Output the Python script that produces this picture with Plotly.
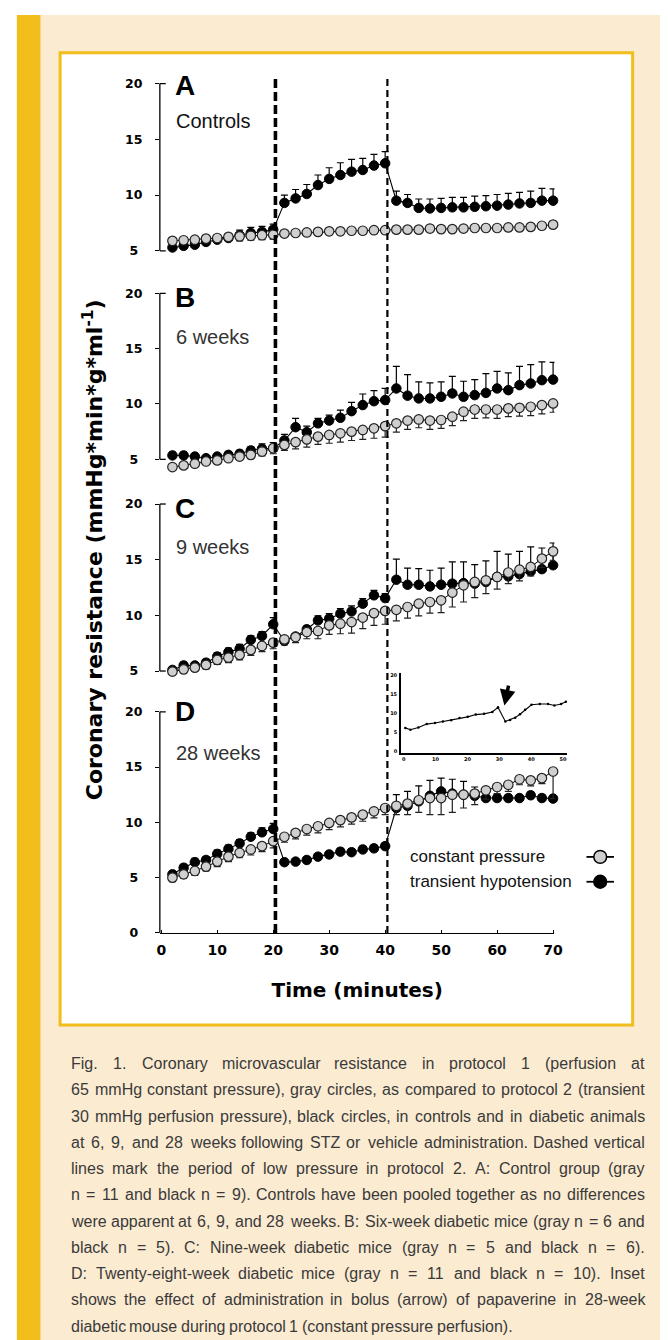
import plotly.graph_objects as go

# ---------------- data ----------------
TIME = [2, 4, 6, 8, 10, 12, 14, 16, 18, 20, 22, 24, 26, 28, 30, 32, 34, 36,
        38, 40, 42, 44, 46, 48, 50, 52, 54, 56, 58, 60, 62, 64, 66, 68, 70]

A_black = [5.3, 5.45, 5.55, 5.8, 6.0, 6.15, 6.4, 6.6, 6.7, 6.9,
           9.3, 9.7, 10.1, 10.9, 11.45, 11.8, 12.1, 12.25, 12.65, 12.85,
           9.5, 9.3, 8.85, 8.8, 8.85, 8.9, 8.9, 8.95, 9.0, 9.05, 9.15, 9.25, 9.3, 9.5, 9.5]
A_black_err = [0.2, 0.2, 0.25, 0.3, 0.3, 0.4, 0.45, 0.5, 0.5, 0.5,
               0.7, 0.8, 0.85, 0.9, 1.0, 1.1, 1.1, 1.05, 1.0, 1.05,
               0.85, 0.75, 0.8, 0.85, 0.85, 0.9, 0.9, 0.95, 0.95, 1.0, 1.0, 1.0, 1.05, 1.1, 1.05]
A_gray = [5.9, 5.95, 6.0, 6.1, 6.15, 6.25, 6.3, 6.35, 6.4, 6.45,
          6.55, 6.6, 6.65, 6.7, 6.75, 6.75, 6.8, 6.8, 6.85, 6.85,
          6.9, 6.9, 6.9, 7.0, 6.95, 6.95, 7.0, 7.05, 7.05, 7.05, 7.1, 7.1, 7.15, 7.25, 7.35]
A_gray_err = [0.2, 0.2, 0.2, 0.25, 0.4, 0.4, 0.4, 0.4, 0.4, 0.4,
              0.3, 0.3, 0.3, 0.3, 0.3, 0.3, 0.3, 0.3, 0.3, 0.3,
              0.3, 0.3, 0.3, 0.3, 0.3, 0.3, 0.3, 0.3, 0.3, 0.3, 0.3, 0.3, 0.3, 0.3, 0.3]

B_black = [5.35, 5.35, 5.25, 5.1, 5.25, 5.4, 5.5, 5.8, 5.95, 6.0,
           6.7, 7.9, 7.45, 8.25, 8.5, 8.75, 9.35, 9.9, 10.25, 10.35,
           11.4, 10.75, 10.5, 10.5, 10.65, 10.95, 10.65, 10.8, 11.0, 11.4, 11.25, 11.7, 11.85, 12.15, 12.2]
B_black_err = [0.3, 0.3, 0.25, 0.2, 0.25, 0.3, 0.3, 0.35, 0.45, 0.5,
               0.55, 0.8, 0.55, 0.45, 0.5, 0.7, 0.8, 1.0, 0.95, 1.05,
               2.0, 1.9, 1.5, 1.4, 1.35, 1.55, 1.4, 1.4, 1.75, 1.55, 1.55, 1.7, 1.7, 1.65, 1.55]
B_gray = [4.3, 4.45, 4.6, 4.8, 4.9, 5.1, 5.25, 5.4, 5.7, 6.0,
          6.3, 6.55, 6.8, 7.05, 7.2, 7.35, 7.5, 7.65, 7.8, 8.0,
          8.25, 8.5, 8.6, 8.5, 8.55, 8.85, 9.3, 9.5, 9.5, 9.5, 9.6, 9.65, 9.75, 9.9, 10.05]
B_gray_err = [0.15, 0.2, 0.2, 0.25, 0.3, 0.3, 0.3, 0.35, 0.4, 0.5,
              0.5, 0.6, 0.7, 0.7, 0.75, 0.8, 0.8, 0.85, 0.9, 1.0,
              0.8, 0.8, 0.75, 0.8, 0.75, 0.8, 0.8, 0.8, 0.75, 0.8, 0.75, 0.75, 0.8, 0.8, 0.8]

C_black = [5.1, 5.5, 5.5, 5.75, 6.3, 6.7, 7.0, 7.8, 8.15, 9.2,
           7.7, 8.1, 8.75, 9.55, 9.7, 10.15, 10.35, 11.05, 11.8, 11.55,
           13.2, 12.75, 12.75, 12.6, 12.75, 12.85, 12.9, 12.85, 13.0, 13.45, 13.5, 13.7, 13.95, 14.15, 14.5]
C_black_err = [0.2, 0.3, 0.25, 0.3, 0.35, 0.35, 0.4, 0.35, 0.4, 0.6,
               0.2, 0.25, 0.3, 0.4, 0.45, 0.45, 0.5, 0.45, 0.45, 0.4,
               1.85, 1.5, 1.45, 1.45, 1.5, 1.95, 1.9, 1.7, 1.9, 2.3, 2.0, 2.05, 2.2, 1.9, 2.0]
C_gray = [4.95, 5.15, 5.3, 5.55, 6.0, 6.2, 6.45, 6.9, 7.25, 7.55,
          7.85, 8.05, 8.5, 8.6, 9.1, 9.25, 9.4, 9.8, 10.2, 10.4,
          10.5, 10.75, 11.05, 11.2, 11.35, 12.05, 12.7, 13.0, 13.15, 13.45, 13.85, 14.1, 14.35, 15.1, 15.75]
C_gray_err = [0.3, 0.3, 0.3, 0.35, 0.4, 0.45, 0.45, 0.5, 0.5, 0.55,
              0.5, 0.5, 0.6, 0.7, 0.8, 0.9, 1.0, 1.0, 1.1, 1.2,
              1.0, 1.0, 1.1, 1.0, 1.1, 1.3, 1.5, 1.4, 1.2, 1.1, 1.0, 1.0, 0.8, 0.8, 0.8]

D_black = [5.3, 5.9, 6.4, 6.6, 7.15, 7.6, 8.1, 8.7, 9.1, 9.4,
           6.4, 6.45, 6.6, 6.9, 7.1, 7.35, 7.3, 7.55, 7.65, 7.85,
           11.3, 11.5, 11.9, 12.4, 12.8, 12.6, 12.5, 12.4, 12.2, 12.2, 12.2, 12.2, 12.45, 12.2, 12.15]
D_black_err = [0.3, 0.3, 0.35, 0.3, 0.35, 0.35, 0.35, 0.35, 0.4, 0.5,
               0.25, 0.25, 0.25, 0.25, 0.25, 0.3, 0.3, 0.3, 0.3, 0.3,
               1.2, 1.3, 1.4, 1.4, 1.2, 1.3, 1.2, 0.8, 0.5, 0.3, 0.3, 0.3, 0.3, 0.3, 0.3]
D_gray = [5.0, 5.3, 5.6, 6.0, 6.45, 6.9, 7.25, 7.55, 7.85, 8.3,
          8.7, 9.05, 9.4, 9.65, 9.95, 10.2, 10.45, 10.7, 11.0, 11.3,
          11.5, 11.7, 12.0, 12.2, 12.2, 12.5, 12.5, 12.6, 12.9, 13.2, 13.4, 13.9, 13.8, 14.0, 14.6]
D_gray_err = [0.35, 0.35, 0.4, 0.4, 0.45, 0.45, 0.45, 0.5, 0.5, 0.6,
              0.5, 0.55, 0.55, 0.6, 0.6, 0.6, 0.6, 0.6, 0.6, 0.6,
              0.8, 1.0, 1.1, 1.5, 1.5, 1.6, 1.2, 1.0, 0.8, 0.6, 0.6, 0.5, 0.5, 0.5, 2.45]

INSET_T = [0.5, 2.1, 4.6, 7.2, 9.8, 12.3, 14.9, 17.5, 20.1, 22.6, 25.2, 27.8,
           29.6, 31.9, 33.4, 35.0, 36.5, 38.1, 40.1, 42.7, 45.3, 47.3, 49.4, 50.9]
INSET_R = [6.1, 5.6, 6.2, 7.1, 7.4, 7.8, 8.1, 8.7, 9.0, 9.6, 9.8, 10.3,
           11.5, 7.8, 8.2, 8.8, 9.7, 10.9, 12.2, 12.4, 12.4, 12.0, 12.4, 13.0]

X_TICKS = [0, 10, 20, 30, 40, 50, 60, 70]
Y_TICKS = [5, 10, 15, 20]
Y_TICKS_D = [0, 5, 10, 15, 20]
INSET_X_TICKS = [0, 10, 20, 30, 40, 50]
INSET_Y_TICKS = [0, 5, 10, 15, 20]
LOW_PRESSURE = [20.4, 40.4]

PANEL_LETTERS = ["A", "B", "C", "D"]
PANEL_NAMES = ["Controls", "6 weeks", "9 weeks", "28 weeks"]
SERIES_NAMES = ["constant pressure", "transient hypotension"]

CAPTION = [
    "Fig. 1.  Coronary microvascular resistance in protocol 1 (perfusion at",
    "65 mmHg constant pressure), gray circles, as compared to protocol 2 (transient",
    "30 mmHg perfusion pressure), black circles, in controls and in diabetic animals",
    "at 6, 9, and 28 weeks following STZ or vehicle administration. Dashed vertical",
    "lines mark the period of low pressure in protocol 2. A: Control group (gray",
    "n = 11 and black n = 9). Controls have been pooled together as no differences",
    "were apparent at 6, 9, and 28 weeks. B: Six-week diabetic mice (gray n = 6 and",
    "black n = 5). C: Nine-week diabetic mice (gray n = 5 and black n = 6).",
    "D: Twenty-eight-week diabetic mice (gray n = 11 and black n = 10). Inset",
    "shows the effect of administration in bolus (arrow) of papaverine in 28-week",
    "diabetic mouse during protocol 1 (constant pressure perfusion).",
]

# ---------------- geometry helpers ----------------
W, H = 668, 1340
def fx(p):
    return p / W
def fy(p):
    return 1 - p / H

CREAM = "#FBEBD1"
GOLD = "#F2BE1C"
GRAYFILL = "#CFCFCF"
BOLD = dict(family="DejaVu Sans", weight="bold", color="black")

PX_PER_MIN = 5.7
X0_PX = 153
XR = [-0.25, 70.25]
XDOM = [fx(X0_PX + XR[0] * PX_PER_MIN), fx(X0_PX + XR[1] * PX_PER_MIN)]

def ygeom(dom_top, dom_bot, v_top, p_top, v_bot, p_bot):
    k = (p_bot - p_top) / (v_top - v_bot)
    r_top = v_top + (p_top - dom_top) / k
    r_bot = v_bot - (dom_bot - p_bot) / k
    return [fy(dom_bot), fy(dom_top)], [r_bot, r_top]

geoms = {
    "y2": ygeom(60, 262, 20, 75, 5, 243.3),     # A
    "y3": ygeom(271, 472, 20, 286, 5, 453),     # B
    "y4": ygeom(482, 686, 20, 498, 5, 666),     # C
    "y": ygeom(692, 929.5, 20, 707, 0, 929.5),  # D
}
letter_y = {"y2": 77, "y3": 290, "y4": 502, "y": 707}
name_y = {"y2": 113, "y3": 330, "y4": 541, "y": 748}

fig = go.Figure()

panels = [
    ("y2", A_black, A_black_err, A_gray, A_gray_err),
    ("y3", B_black, B_black_err, B_gray, B_gray_err),
    ("y4", C_black, C_black_err, C_gray, C_gray_err),
    ("y", D_black, D_black_err, D_gray, D_gray_err),
]
zeros = [0] * len(TIME)
for yref, bl, ble, gr, gre in panels:
    fig.add_trace(go.Scatter(
        x=TIME, y=bl, xaxis="x", yaxis=yref, mode="lines+markers",
        name=SERIES_NAMES[1], showlegend=False, cliponaxis=False, hoverinfo="skip",
        line=dict(color="black", width=1.1),
        marker=dict(size=9.5, color="black", line=dict(color="black", width=1)),
        error_y=dict(type="data", symmetric=False, array=ble, arrayminus=zeros,
                     color="black", thickness=1.2, width=3.5)))
    fig.add_trace(go.Scatter(
        x=TIME, y=gr, xaxis="x", yaxis=yref, mode="lines+markers",
        name=SERIES_NAMES[0], showlegend=False, cliponaxis=False, hoverinfo="skip",
        line=dict(color="black", width=1.0),
        marker=dict(size=9.5, color=GRAYFILL, line=dict(color="#222222", width=1.2)),
        error_y=dict(type="data", symmetric=False, array=zeros, arrayminus=gre,
                     color="#222222", thickness=1.2, width=3.5)))

# inset trace
fig.add_trace(go.Scatter(
    x=INSET_T, y=INSET_R, xaxis="x2", yaxis="y5", mode="lines+markers",
    showlegend=False, hoverinfo="skip", cliponaxis=False,
    line=dict(color="black", width=1.1),
    marker=dict(size=2.5, color="black")))

layout = dict(
    width=W, height=H, autosize=False,
    margin=dict(l=0, r=0, t=0, b=0),
    paper_bgcolor="white", plot_bgcolor="rgba(0,0,0,0)",
    showlegend=False,
    xaxis=dict(domain=XDOM, range=XR, anchor="y", showgrid=False, zeroline=False,
               showline=True, linecolor="black", linewidth=1.3,
               ticks="inside", ticklen=3, tickcolor="black", tickwidth=1,
               tickvals=X_TICKS, tickfont=dict(size=14, **BOLD), ticklabelstandoff=4,
               title=dict(text="Time (minutes)", font=dict(size=20, **BOLD), standoff=26)),
    xaxis2=dict(domain=[fx(397), fx(566)], range=[-0.9, 51.2], anchor="y5",
                showgrid=False, zeroline=False, showline=True, linecolor="black",
                linewidth=1.5, ticks="", tickvals=INSET_X_TICKS,
                tickfont=dict(size=5, **BOLD), ticklabelstandoff=1),
    yaxis5=dict(domain=[fy(748), fy(668)], range=[-(748 - 746.5) / 3.82, (746.5 - 668) / 3.82],
                anchor="x2", showgrid=False, zeroline=False, showline=True,
                linecolor="black", linewidth=1.5, ticks="", tickvals=INSET_Y_TICKS,
                tickfont=dict(size=5, **BOLD), ticklabelstandoff=1),
)
for yref, (dom, rng) in geoms.items():
    key = "yaxis" if yref == "y" else "yaxis" + yref[1:]
    tv = Y_TICKS_D if yref == "y" else Y_TICKS
    tt = [(str(v) + "\u2004") if v < 10 else str(v) for v in tv]
    layout[key] = dict(domain=dom, range=rng, anchor="x", showgrid=False,
                       zeroline=False, showline=False, ticks="outside", ticklen=4,
                       tickcolor="black", tickwidth=1.2, tickvals=tv, ticktext=tt,
                       tickfont=dict(size=12.5, **BOLD), ticklabelstandoff=10)
fig.update_layout(**layout)

shapes = []
# background
shapes.append(dict(type="rect", xref="paper", yref="paper", x0=fx(6), x1=1, y0=0, y1=fy(6),
                   fillcolor=CREAM, line=dict(width=0), layer="below"))
shapes.append(dict(type="rect", xref="paper", yref="paper", x0=fx(6), x1=fx(30), y0=0, y1=fy(6),
                   fillcolor=GOLD, line=dict(width=0), layer="below"))
shapes.append(dict(type="rect", xref="paper", yref="paper", x0=fx(50), x1=fx(633),
                   y0=fy(1022), y1=fy(44), fillcolor="white",
                   line=dict(color=GOLD, width=3), layer="below"))
# y axis lines with bracket stubs
stub = 6 / ((XR[1] - XR[0]) * PX_PER_MIN)
for yref in ["y2", "y3", "y4", "y"]:
    lo = 0 if yref == "y" else 5
    shapes.append(dict(type="line", xref="x domain", yref=yref, x0=0, x1=0, y0=lo, y1=20,
                       line=dict(color="black", width=1.3)))
    shapes.append(dict(type="line", xref="x domain", yref=yref, x0=0, x1=stub, y0=20, y1=20,
                       line=dict(color="black", width=1.3)))
    if yref != "y":
        shapes.append(dict(type="line", xref="x domain", yref=yref, x0=0, x1=stub, y0=5, y1=5,
                           line=dict(color="black", width=1.3)))
# dashed low-pressure period lines
shapes.append(dict(type="line", xref="x", yref="paper", x0=LOW_PRESSURE[0], x1=LOW_PRESSURE[0],
                   y0=fy(929.5), y1=fy(69), line=dict(color="black", width=3.6, dash="9px,4px")))
shapes.append(dict(type="line", xref="x", yref="paper", x0=LOW_PRESSURE[1], x1=LOW_PRESSURE[1],
                   y0=fy(929.5), y1=fy(69), line=dict(color="black", width=2.2, dash="7px,4px")))
# legend symbols
for i, (fill, yc) in enumerate([(GRAYFILL, 853), ("black", 878)]):
    shapes.append(dict(type="line", xref="paper", yref="paper", x0=fx(586), x1=fx(614),
                       y0=fy(yc), y1=fy(yc), line=dict(color="black", width=1.8)))
    r = 6.5
    shapes.append(dict(type="circle", xref="paper", yref="paper", x0=fx(600 - r), x1=fx(600 + r),
                       y0=fy(yc + r), y1=fy(yc - r), fillcolor=fill,
                       line=dict(color="black", width=1.5)))

annotations = []
for yref, letter, nm in zip(["y2", "y3", "y4", "y"], PANEL_LETTERS, PANEL_NAMES):
    annotations.append(dict(xref="paper", yref="paper", x=fx(165), y=fy(letter_y[yref]),
                            xanchor="left", yanchor="middle", showarrow=False, text=letter,
                            font=dict(family="Liberation Sans", weight="bold", size=28, color="black")))
    annotations.append(dict(xref="paper", yref="paper", x=fx(166), y=fy(name_y[yref]),
                            xanchor="left", yanchor="middle", showarrow=False, text=nm,
                            font=dict(family="Liberation Sans", size=20,
                                      color="#111111" if yref == "y2" else "#333333")))
# y title
annotations.append(dict(xref="paper", yref="paper", x=fx(83), y=fy(544), textangle=-90,
                        xanchor="center", yanchor="middle", showarrow=False,
                        text="Coronary resistance (mmHg*min*g*ml<sup>-1</sup>)",
                        font=dict(size=22, **BOLD)))
# legend text
for nm, yc in zip(SERIES_NAMES, [853, 878]):
    annotations.append(dict(xref="paper", yref="paper", x=fx(404), y=fy(yc), xanchor="left",
                            yanchor="middle", showarrow=False, text=nm,
                            font=dict(family="Liberation Sans", size=17, color="#111111")))
# inset arrow
annotations.append(dict(xref="x2", yref="y5", x=31.6, y=12.0, axref="x2", ayref="y5",
                        ax=33.0, ay=17.6, text="", showarrow=True, arrowhead=2,
                        arrowsize=0.9, arrowwidth=3.5, arrowcolor="black", standoff=0))

# caption: justified, word by word (Arial metrics for Liberation Sans)
AW = {' ': 278, '(': 333, ')': 333, ',': 278, '-': 333, '.': 278, ':': 278, '=': 584}
for c in "0123456789":
    AW[c] = 556
AW.update(dict(A=667, B=667, C=722, D=722, E=667, F=611, G=778, H=722, I=278, J=500, K=667,
               L=556, M=833, N=722, O=778, P=667, Q=778, R=722, S=667, T=611, U=722, V=667,
               W=944, X=667, Y=667, Z=611, a=556, b=556, c=500, d=556, e=556, f=278, g=556,
               h=556, i=222, j=222, k=500, l=222, m=833, n=556, o=556, p=556, q=556, r=333,
               s=500, t=278, u=556, v=500, w=722, x=500, y=500, z=500))
def wem(s):
    return sum(AW.get(ch, 556) for ch in s) / 1000.0

CAP_L, CAP_R = 60, 643.5
CAP_W = CAP_R - CAP_L
nat = [wem(" ".join(ln.split())) for ln in CAPTION[:-1]]
fs = min(16.0, CAP_W / max(nat))
for i, ln in enumerate(CAPTION):
    yc = 1061 + i * 26.4
    words = ln.split()
    ww = [wem(w) * fs for w in words]
    if i < len(CAPTION) - 1 and len(words) > 1:
        gap = (CAP_W - sum(ww)) / (len(words) - 1)
    else:
        gap = wem(' ') * fs
    xpos = CAP_L
    for w, wpx in zip(words, ww):
        annotations.append(dict(xref="paper", yref="paper", x=fx(xpos - 1), y=fy(yc),
                                xanchor="left", yanchor="middle", showarrow=False, text=w,
                                font=dict(family="Liberation Sans", size=fs, color="#3a3a3a")))
        xpos += wpx + gap

fig.update_layout(shapes=shapes, annotations=annotations)
fig.write_html("out.html", config={"displayModeBar": False})
